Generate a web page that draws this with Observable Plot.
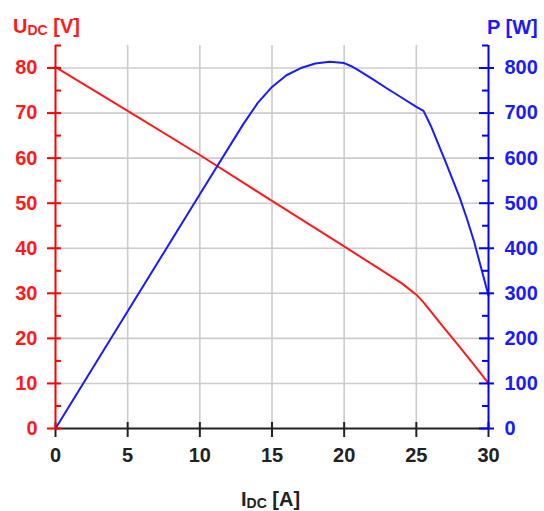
<!DOCTYPE html>
<html>
<head>
<meta charset="utf-8">
<script src="https://cdn.jsdelivr.net/npm/d3@7"></script>
<script src="https://cdn.jsdelivr.net/npm/@observablehq/plot@0.6"></script>
<style>
  html, body { margin: 0; padding: 0; background: #fff; }
  #chart svg { display: block; }
</style>
</head>
<body>
<div id="chart"></div>
<script>
// Voltage curve U_DC [V] vs current I_DC [A]
const currentU = [0, 5, 10, 15, 20, 22.5, 24, 25, 25.5, 26, 27, 28, 29, 30];
const voltage  = [80.2, 70.5, 60.7, 50.5, 40.4, 35.3, 32.2, 29.7, 28.0, 26.0, 22.0, 18.1, 14.1, 10];

// Power curve P [W] vs current I_DC [A]
const currentP = [0, 5, 10, 13, 14, 15, 16, 17, 18, 19, 20, 20.5, 21, 22, 23, 24, 25, 25.5, 26, 27, 28, 28.5, 29, 30];
const power    = [0, 260, 520, 675, 722, 758, 784, 800, 810, 814, 811, 804, 795, 775, 754, 734, 714, 705, 672, 594, 513, 466, 415, 295];

// Axis ticks and labels
const xTicks = [0, 5, 10, 15, 20, 25, 30];
const xTickLabels = ["0", "5", "10", "15", "20", "25", "30"];
const vTicks = [0, 10, 20, 30, 40, 50, 60, 70, 80];
const vTickLabels = ["0", "10", "20", "30", "40", "50", "60", "70", "80"];
const pTickLabels = ["0", "100", "200", "300", "400", "500", "600", "700", "800"];
const minorTicks = [5, 15, 25, 35, 45, 55, 65, 75, 85];
const xGrid = [5, 10, 15, 20, 25];
const yGrid = [10, 20, 30, 40, 50, 60, 70, 80];
const pPerV = 10; // right axis (W) is 10x the left axis (V)

const W = 544, H = 511;
const mL = 55, mR = 56, mT = 45, mB = 83;
const plotW = W - mL - mR;
const plotH = H - mT - mB;

const uData = currentU.map((c, i) => ({I: c, U: voltage[i]}));
const pData = currentP.map((c, i) => ({I: c, P: power[i]}));
const xLab = xTicks.map((t, i) => ({t, label: xTickLabels[i]}));
const vLab = vTicks.map((t, i) => ({t, label: vTickLabels[i], plabel: pTickLabels[i]}));

const font = "Liberation Sans, Arial, sans-serif";
const fs = 20;

const chart = Plot.plot({
  width: W, height: H,
  marginLeft: mL, marginRight: mR, marginTop: mT, marginBottom: mB,
  x: {domain: [0, 30], axis: null},
  y: {domain: [0, 85], axis: null},
  style: {fontFamily: font, background: "white"},
  marks: [
    // grid
    Plot.ruleX(xGrid, {x: d => d, stroke: "#cccccc", strokeWidth: 1.6}),
    Plot.ruleY(yGrid, {y: d => d, stroke: "#cccccc", strokeWidth: 1.6}),
    // data
    Plot.line(uData, {x: "I", y: "U", stroke: "#ff1a1a", strokeWidth: 2}),
    Plot.line(pData, {x: "I", y: d => d.P / pPerV, stroke: "#1a1aff", strokeWidth: 2}),
    // bottom axis ticks (crossing)
    Plot.ruleX(xTicks, {x: d => d, stroke: "#222", strokeWidth: 2, insetTop: plotH - 6, insetBottom: -9}),
    // bottom axis line
    Plot.ruleY([0], {stroke: "#222", strokeWidth: 2}),
    // left axis line and ticks
    Plot.ruleX([0], {x: d => d, stroke: "#ff0000", strokeWidth: 2}),
    Plot.ruleY(vTicks, {y: d => d, stroke: "#ff0000", strokeWidth: 2, insetLeft: -8, insetRight: plotW - 6}),
    Plot.ruleY(minorTicks, {y: d => d, stroke: "#ff0000", strokeWidth: 2, insetLeft: 0, insetRight: plotW - 6}),
    // right axis line and ticks
    Plot.ruleX([30], {x: d => d, stroke: "#0000ff", strokeWidth: 2}),
    Plot.ruleY(vTicks, {y: d => d, stroke: "#0000ff", strokeWidth: 2, insetLeft: plotW - 9, insetRight: -6}),
    Plot.ruleY(minorTicks, {y: d => d, stroke: "#0000ff", strokeWidth: 2, insetLeft: plotW - 6, insetRight: 0}),
    // tick labels
    Plot.text(xLab, {x: "t", text: "label", frameAnchor: "bottom", dy: 33, fill: "#222", fontSize: fs, fontWeight: "bold"}),
    Plot.text(vLab, {y: "t", text: "label", frameAnchor: "left", dx: -18, textAnchor: "end", fill: "#ff1a1a", fontSize: fs, fontWeight: "bold"}),
    Plot.text(vLab, {y: "t", text: "plabel", frameAnchor: "right", dx: 16, textAnchor: "start", fill: "#1a1aff", fontSize: fs, fontWeight: "bold"})
  ]
});

// Axis titles with subscripts (real SVG text)
const svg = d3.select(chart);
function title(x, y, main, sub, rest, color, anchor) {
  const t = svg.append("text")
    .attr("x", x).attr("y", y)
    .attr("fill", color)
    .attr("font-family", font)
    .attr("font-weight", "bold")
    .attr("font-size", fs)
    .attr("text-anchor", anchor || "start");
  t.append("tspan").text(main);
  if (sub) t.append("tspan").attr("font-size", 14).attr("dy", 2).text(sub);
  t.append("tspan").attr("dy", sub ? -2 : 0).text(rest);
}
title(13, 33, "U", "DC", " [V]", "#ff1a1a");
title(487, 34, "P", "", " [W]", "#1a1aff");
title(241, 506, "I", "DC", " [A]", "#222");

document.getElementById("chart").appendChild(chart);
</script>
</body>
</html>
